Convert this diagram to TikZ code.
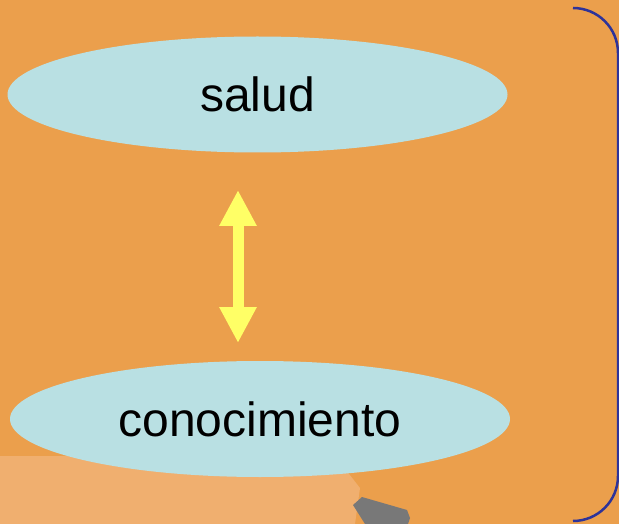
\documentclass[tikz,border=0pt]{standalone}
\usepackage{fontspec}
\setmainfont{Liberation Sans}
\usetikzlibrary{shapes.geometric,arrows.meta}
\definecolor{bgor}{HTML}{EB9F4C}
\definecolor{lightor}{HTML}{F0AF6F}
\definecolor{ellfill}{HTML}{B9E0E3}
\definecolor{arryel}{HTML}{FFFF66}
\definecolor{brk}{HTML}{2E3399}
\definecolor{gr}{HTML}{787878}
\tikzset{
  ellnode/.style={ellipse, fill=ellfill, draw=none, minimum width=500pt, minimum height=116pt, inner sep=0pt, font=\fontsize{48}{58}\selectfont},
  yarrow/.style={draw=arryel, line width=11pt, {Triangle[length=36pt 0,width=35pt 0]}-{Triangle[length=36pt 0,width=35pt 0]}, arryel},
  bracket/.style={draw=brk, line width=2.5pt}
}
\begin{document}
\begin{tikzpicture}[x=1pt,y=-1pt]
\fill[bgor] (0,0) rectangle (619,524);
\useasboundingbox (0,0) rectangle (619,524);
\fill[lightor] (0,456) -- (335,456) -- (360,488) -- (355,524) -- (0,524) -- cycle;
\node[ellnode] (salud) at (257.5,94.5) {salud};
\node[ellnode] (cono) at (260,419) {conocimiento};
\coordinate (atop) at (238,190);
\coordinate (abot) at (238,343);
\draw[yarrow] (atop) -- (abot);
\coordinate (b1) at (573,8);
\draw[bracket] (b1) arc[start angle=90, end angle=0, radius=45pt] -- ++(0,423) arc[start angle=0, end angle=-90, radius=45pt];
\fill[gr] (353,505) -- (362,497) -- (407,510) -- (410,518) -- (408,524) -- (365,524) -- cycle;
\end{tikzpicture}
\end{document}
